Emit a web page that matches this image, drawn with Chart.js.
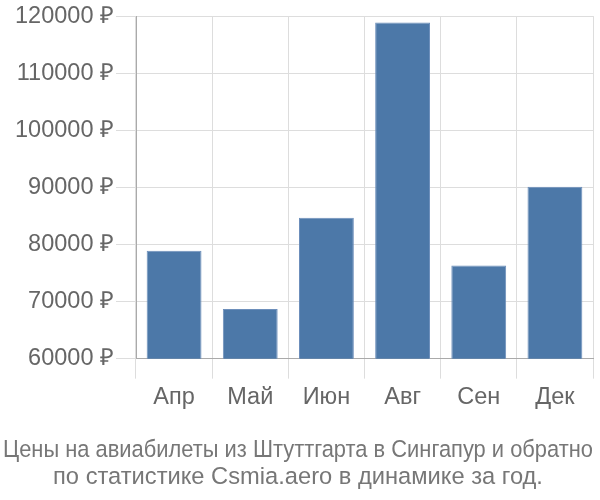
<!DOCTYPE html>
<html>
<head>
<meta charset="utf-8">
<script src="https://cdn.jsdelivr.net/npm/chart.js@4"></script>
<style>
  html, body { margin: 0; padding: 0; background: #fff; }
  #wrap { width: 600px; height: 500px; position: relative; }
</style>
</head>
<body>
<div id="wrap"><canvas id="chart"></canvas></div>
<script>
// months and prices (rubles)
const months = ["Апр", "Май", "Июн", "Авг", "Сен", "Дек"];
const prices = [78900, 68700, 84700, 118900, 76300, 90100];
const yTicks = [60000, 70000, 80000, 90000, 100000, 110000, 120000];
const titleLines = [
  "Цены на авиабилеты из Штуттгарта в Сингапур и обратно",
  "по статистике Csmia.aero в динамике за год."
];

const font = "'Liberation Sans', Arial, sans-serif";

new Chart(document.getElementById("chart"), {
  type: "bar",
  data: {
    labels: months,
    datasets: [{
      data: prices,
      backgroundColor: "#4c78a8",
      borderColor: "#6d8fbb",
      borderWidth: { top: 1, left: 1, right: 1, bottom: 0 },
    }],
  },
  options: {
    responsive: true,
    maintainAspectRatio: false,
    animation: false,
    layout: { padding: { top: 0, right: 7, left: 3, bottom: 0 } },
    plugins: {
      legend: { display: false },
      tooltip: { enabled: false },
      title: {
        display: true,
        position: "bottom",
        text: titleLines,
        color: "#777",
        font: { size: 23.7, family: font, weight: "normal", lineHeight: 1.1 },
        padding: { top: 21, bottom: 10 },
      },
    },
    scales: {
      x: {
        grid: { color: "#ddd", tickLength: 20 },
        border: { color: "#aaa" },
        ticks: { color: "#666", font: { size: 23.5, family: font }, padding: 5 },
      },
      y: {
        min: yTicks[0],
        max: yTicks[yTicks.length - 1],
        afterBuildTicks: (axis) => { axis.ticks = yTicks.map((v) => ({ value: v })); },
        afterFit: (axis) => { axis.width = 133; },
        grid: { color: "#ddd", tickLength: 20 },
        border: { color: "#aaa" },
        ticks: {
          color: "#666",
          font: { size: 23.5, family: font },
          padding: 2,
          callback: (v) => v + " ₽",
        },
      },
    },
  },
});
</script>
</body>
</html>
